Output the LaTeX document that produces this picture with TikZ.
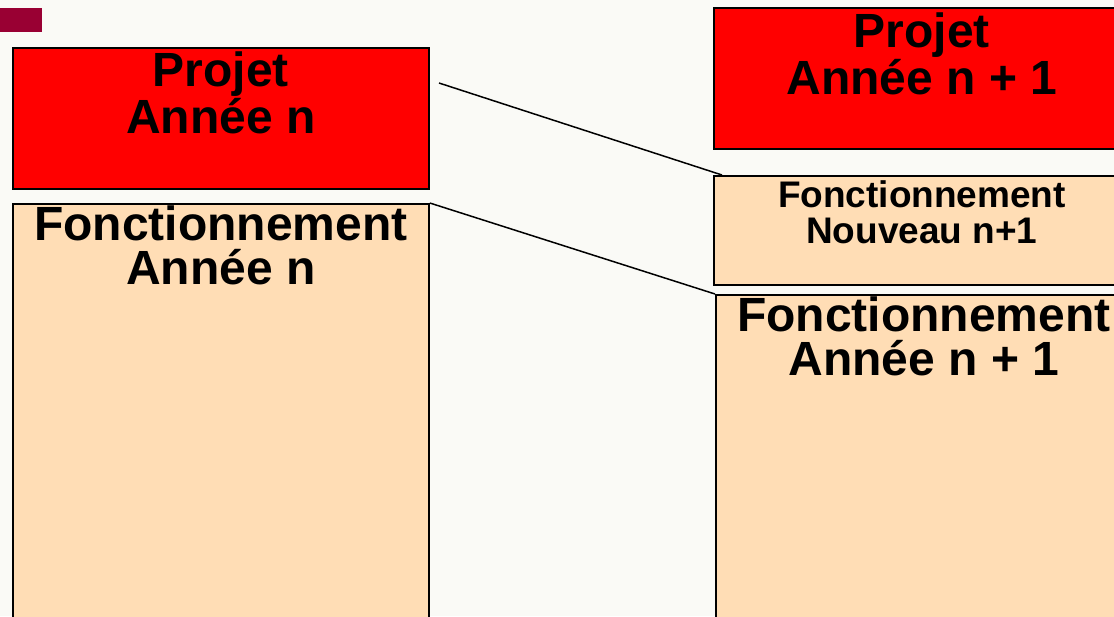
\documentclass[tikz,border=0pt]{standalone}
\usepackage{fontspec}
\setmainfont{Liberation Sans}
\usetikzlibrary{positioning}

\definecolor{projred}{RGB}{255,0,0}
\definecolor{fonctbeige}{RGB}{255,221,181}
\definecolor{markred}{RGB}{153,0,51}
\definecolor{slidebg}{RGB}{250,250,246}

\begin{document}
\begin{tikzpicture}[x=1pt, y=-1pt,
    box/.style={draw=black, line width=1.8pt, rectangle, inner sep=0pt, anchor=north west},
    projbox/.style={box, fill=projred},
    fonctbox/.style={box, fill=fonctbeige},
    bigtxt/.style={font=\bfseries\fontsize{48}{44}\selectfont, align=center, inner sep=0pt},
    smalltxt/.style={font=\bfseries\fontsize{37}{36}\selectfont, align=center, inner sep=0pt},
    link/.style={black, line width=1.5pt}]
    % Visual: slide of 1114 x 616
    \useasboundingbox (0,0) rectangle (1114,616);
    \clip (0,0) rectangle (1114,616);
    \fill[slidebg] (0,0) rectangle (1114,616);
    \fill[markred] (-2,8) rectangle (42,32);

    % year n
    \node[projbox, minimum width=416pt, minimum height=141pt] (projA) at (12,47) {};
    \node[fonctbox, minimum width=416pt, minimum height=440pt] (fonctA) at (12,203) {};
    \node[bigtxt, below=5pt of projA.north] (projAtxt) {Projet\\Année n};
    \node[bigtxt, below=3pt of fonctA.north] (fonctAtxt) {Fonctionnement\\Année n};

    % year n + 1
    \node[projbox, minimum width=416pt, minimum height=141pt] (projB) at (713,7) {};
    \node[fonctbox, minimum width=416pt, minimum height=109pt] (nouv) at (713,175) {};
    \node[fonctbox, minimum width=416pt, minimum height=350pt] (fonctB) at (715,294) {};
    \node[bigtxt, below=6pt of projB.north] (projBtxt) {Projet\\Année n + 1};
    \node[smalltxt, below=5pt of nouv.north] (nouvtxt) {Fonctionnement\\Nouveau n+1};
    \node[bigtxt, below=3pt of fonctB.north] (fonctBtxt) {Fonctionnement\\Année n + 1};

    % links
    \coordinate (p1) at (439,83);
    \draw[link] (p1) -- ([xshift=9pt]nouv.north west);
    \draw[link] (fonctA.north east) -- (fonctB.north west);
\end{tikzpicture}
\end{document}
